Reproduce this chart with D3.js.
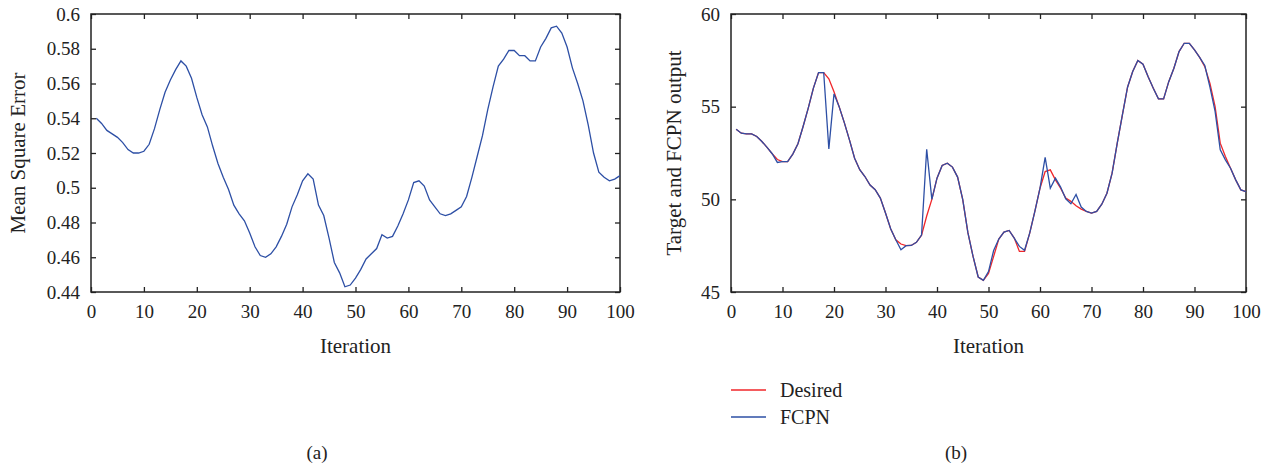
<!DOCTYPE html>
<html>
<head>
<meta charset="utf-8">
<script src="https://cdn.jsdelivr.net/npm/d3@7"></script>
<style>
  body { margin: 0; background: #fff; }
  text { font-family: "Liberation Serif", "DejaVu Serif", serif; fill: #222; }
</style>
</head>
<body>
<svg id="chart" width="1270" height="468"></svg>
<script>
// iteration index 1..100
const iterations = d3.range(1, 101);

// (a) mean square error per iteration
const mse = [
  0.540, 0.537, 0.533, 0.531, 0.529, 0.526, 0.522, 0.520, 0.520, 0.521,
  0.525, 0.534, 0.545, 0.555, 0.562, 0.568, 0.573, 0.570, 0.563, 0.552,
  0.542, 0.535, 0.524, 0.514, 0.506, 0.499, 0.490, 0.485, 0.481, 0.474,
  0.466, 0.461, 0.460, 0.462, 0.466, 0.472, 0.479, 0.489, 0.496, 0.504,
  0.508, 0.505, 0.490, 0.484, 0.471, 0.457, 0.451, 0.443, 0.444, 0.448,
  0.453, 0.459, 0.462, 0.465, 0.473, 0.471, 0.472, 0.478, 0.485, 0.493,
  0.503, 0.504, 0.501, 0.493, 0.489, 0.485, 0.484, 0.485, 0.487, 0.489,
  0.495, 0.506, 0.518, 0.530, 0.545, 0.558, 0.570, 0.574, 0.579, 0.579,
  0.576, 0.576, 0.573, 0.573, 0.581, 0.586, 0.592, 0.593, 0.589, 0.581,
  0.569, 0.560, 0.550, 0.536, 0.520, 0.509, 0.506, 0.504, 0.505, 0.507
];

// (b) desired target and FCPN output
const desired = [
  53.78, 53.57, 53.53, 53.53, 53.39, 53.12, 52.80, 52.46, 52.15, 52.04,
  52.04, 52.44, 53.00, 53.93, 54.92, 56.00, 56.84, 56.84, 56.50, 55.80,
  55.00, 54.14, 53.21, 52.22, 51.60, 51.23, 50.77, 50.52, 50.07, 49.26,
  48.41, 47.82, 47.59, 47.50, 47.51, 47.68, 48.07, 49.10, 50.00, 51.14,
  51.83, 51.95, 51.74, 51.20, 49.98, 48.20, 46.92, 45.81, 45.63, 46.00,
  46.92, 47.86, 48.23, 48.32, 47.91, 47.19, 47.19, 48.18, 49.35, 50.60,
  51.50, 51.59, 51.05, 50.60, 50.07, 49.89, 49.65, 49.47, 49.35, 49.26,
  49.35, 49.74, 50.33, 51.41, 53.03, 54.56, 56.05, 56.90, 57.49, 57.29,
  56.62, 55.99, 55.42, 55.42, 56.35, 57.07, 57.97, 58.42, 58.42, 58.06,
  57.66, 57.16, 56.26, 55.00, 53.03, 52.31, 51.68, 51.05, 50.51, 50.42
];
const fcpn = [
  53.78, 53.57, 53.53, 53.53, 53.39, 53.12, 52.80, 52.46, 51.99, 52.04,
  52.04, 52.44, 53.00, 53.93, 54.92, 56.00, 56.84, 56.84, 52.72, 55.69,
  55.00, 54.14, 53.21, 52.22, 51.60, 51.23, 50.77, 50.52, 50.07, 49.26,
  48.41, 47.82, 47.28, 47.50, 47.51, 47.68, 48.07, 52.70, 50.00, 51.14,
  51.83, 51.95, 51.74, 51.20, 49.98, 48.20, 46.92, 45.81, 45.63, 46.10,
  47.24, 47.86, 48.23, 48.32, 47.91, 47.46, 47.25, 48.18, 49.35, 50.60,
  52.26, 50.60, 51.14, 50.66, 50.03, 49.76, 50.26, 49.58, 49.35, 49.26,
  49.35, 49.74, 50.33, 51.41, 53.03, 54.56, 56.05, 56.90, 57.49, 57.29,
  56.62, 55.99, 55.42, 55.42, 56.35, 57.07, 57.97, 58.42, 58.42, 58.06,
  57.66, 57.22, 56.05, 54.74, 52.67, 52.13, 51.68, 51.05, 50.51, 50.42
];

const xTicks = d3.range(0, 101, 10);
const mseTicks = [0.44, 0.46, 0.48, 0.5, 0.52, 0.54, 0.56, 0.58, 0.6];
const outTicks = [45, 50, 55, 60];
const legendNames = ["Desired", "FCPN"];
const RED = "#f0262a", BLUE = "#2d4fa5";

const svg = d3.select("#chart");

function panel(opt) {
    const x = d3.scaleLinear().domain([0, 100]).range([opt.left, opt.right]);
    const y = d3.scaleLinear().domain(opt.yDomain).range([opt.bottom, opt.top]);
    const g = svg.append("g");
    const tk = 5;

    // ticks inward on all four sides
    g.append("g").attr("transform", "translate(0," + opt.bottom + ")")
        .call(d3.axisBottom(x).tickValues(xTicks).tickSize(-tk).tickFormat(d3.format("d")).tickPadding(13))
        .call(a => a.select(".domain").remove());
    g.append("g").attr("transform", "translate(0," + opt.top + ")")
        .call(d3.axisTop(x).tickValues(xTicks).tickSize(-tk).tickFormat(""))
        .call(a => a.select(".domain").remove());
    g.append("g").attr("transform", "translate(" + opt.left + ",0)")
        .call(d3.axisLeft(y).tickValues(opt.yTicks).tickSize(-tk).tickFormat(opt.fmt).tickPadding(11))
        .call(a => a.select(".domain").remove());
    g.append("g").attr("transform", "translate(" + opt.right + ",0)")
        .call(d3.axisRight(y).tickValues(opt.yTicks).tickSize(-tk).tickFormat(""))
        .call(a => a.select(".domain").remove());

    g.selectAll(".tick line").attr("stroke", "#222").attr("stroke-width", 1.3);
    g.selectAll(".tick text").style("font-size", "19px").attr("fill", "#222")
        .style("font-family", '"Liberation Serif", serif');

    g.append("rect")
        .attr("x", opt.left).attr("y", opt.top)
        .attr("width", opt.right - opt.left).attr("height", opt.bottom - opt.top)
        .attr("fill", "none").attr("stroke", "#222").attr("stroke-width", 1.5);

    const line = d3.line().x((d, i) => x(iterations[i])).y(d => y(d));
    opt.series.forEach(s => {
        g.append("path").datum(s.values)
            .attr("d", line)
            .attr("fill", "none")
            .attr("stroke", s.color)
            .attr("stroke-width", 1.3);
    });

    g.append("text")
        .attr("x", (opt.left + opt.right) / 2).attr("y", opt.bottom + 61)
        .attr("text-anchor", "middle").style("font-size", "21px")
        .text("Iteration");
    g.append("text")
        .attr("transform", "translate(" + opt.titleX + "," + (opt.top + opt.bottom) / 2 + ") rotate(-90)")
        .attr("text-anchor", "middle").style("font-size", "21px")
        .text(opt.yTitle);
    g.append("text")
        .attr("x", opt.captionX).attr("y", 459)
        .attr("text-anchor", "middle").style("font-size", "19px")
        .text(opt.caption);
    return { x, y };
}

panel({
    left: 91, right: 620, top: 14, bottom: 292,
    yDomain: [0.44, 0.6], yTicks: mseTicks, fmt: d3.format(""),
    yTitle: "Mean Square Error", titleX: 25,
    caption: "(a)", captionX: 317,
    series: [{ values: mse, color: BLUE }]
});

panel({
    left: 731, right: 1246, top: 14, bottom: 292,
    yDomain: [45, 60], yTicks: outTicks, fmt: d3.format("d"),
    yTitle: "Target and FCPN output", titleX: 681,
    caption: "(b)", captionX: 956,
    series: [{ values: desired, color: RED }, { values: fcpn, color: BLUE }]
});

// legend
const legend = svg.append("g").attr("transform", "translate(731,390)");
legendNames.forEach((name, i) => {
    const row = legend.append("g").attr("transform", "translate(0," + i * 27 + ")");
    row.append("line").attr("x1", 0).attr("x2", 35).attr("y1", 0).attr("y2", 0)
        .attr("stroke", i === 0 ? RED : BLUE).attr("stroke-width", 1.3);
    row.append("text").attr("x", 49).attr("y", 7).style("font-size", "20px").text(name);
});
</script>
</body>
</html>
